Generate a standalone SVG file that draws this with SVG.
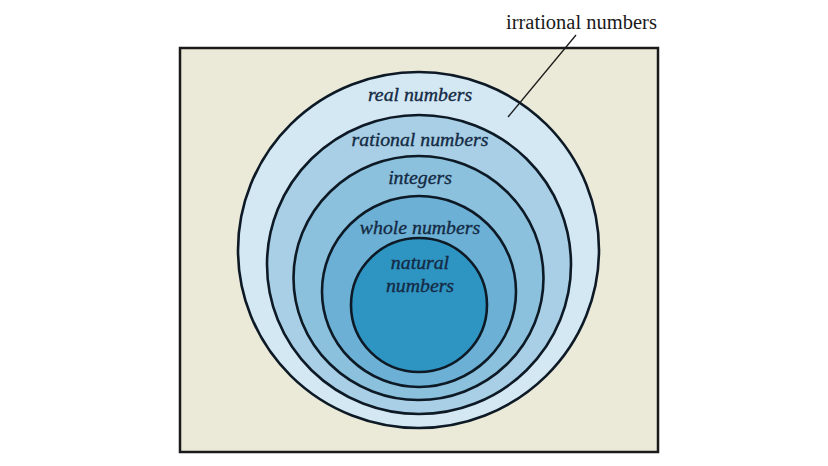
<svg xmlns="http://www.w3.org/2000/svg" width="828" height="466" viewBox="0 0 828 466">
<style>
.ring{stroke:#0d1a26;stroke-width:2.6}
.lbl{font-family:"Liberation Serif","DejaVu Serif",serif;font-style:italic;font-size:19.8px;fill:#142a44;stroke:#142a44;stroke-width:0.35;text-anchor:middle}
.call{font-family:"Liberation Serif","DejaVu Serif",serif;font-size:20.5px;fill:#1a1a1a}
</style>
<rect width="828" height="466" fill="#ffffff"/>
<g id="universe">
<rect x="180" y="48" width="478" height="404" fill="#ebead8" stroke="#1a1a1a" stroke-width="2.5"/>
</g>
<g id="real">
<ellipse class="ring" cx="418.5" cy="250" rx="180.5" ry="178" fill="#d4e8f4"/>
<text class="lbl" x="420" y="101">real numbers</text>
</g>
<g id="rational">
<ellipse class="ring" cx="419" cy="264.5" rx="152" ry="149.5" fill="#a8cfe5"/>
<text class="lbl" x="420" y="146">rational numbers</text>
</g>
<g id="integers">
<ellipse class="ring" cx="418.5" cy="278" rx="125" ry="122" fill="#8bc1dd"/>
<text class="lbl" x="420" y="184">integers</text>
</g>
<g id="whole">
<ellipse class="ring" cx="419" cy="291.5" rx="97" ry="95.5" fill="#6cb1d5"/>
<text class="lbl" x="420" y="234">whole numbers</text>
</g>
<g id="natural">
<ellipse class="ring" cx="419" cy="305" rx="68" ry="67" fill="#2e94c2"/>
<text class="lbl" x="420" y="269">natural</text>
<text class="lbl" x="420" y="292">numbers</text>
</g>
<g id="irrational-label">
<text class="call" x="506" y="29">irrational numbers</text>
</g>
<g id="connectors">
<line x1="576" y1="35" x2="508" y2="117" stroke="#1a1a1a" stroke-width="1.3"/>
</g>
</svg>
